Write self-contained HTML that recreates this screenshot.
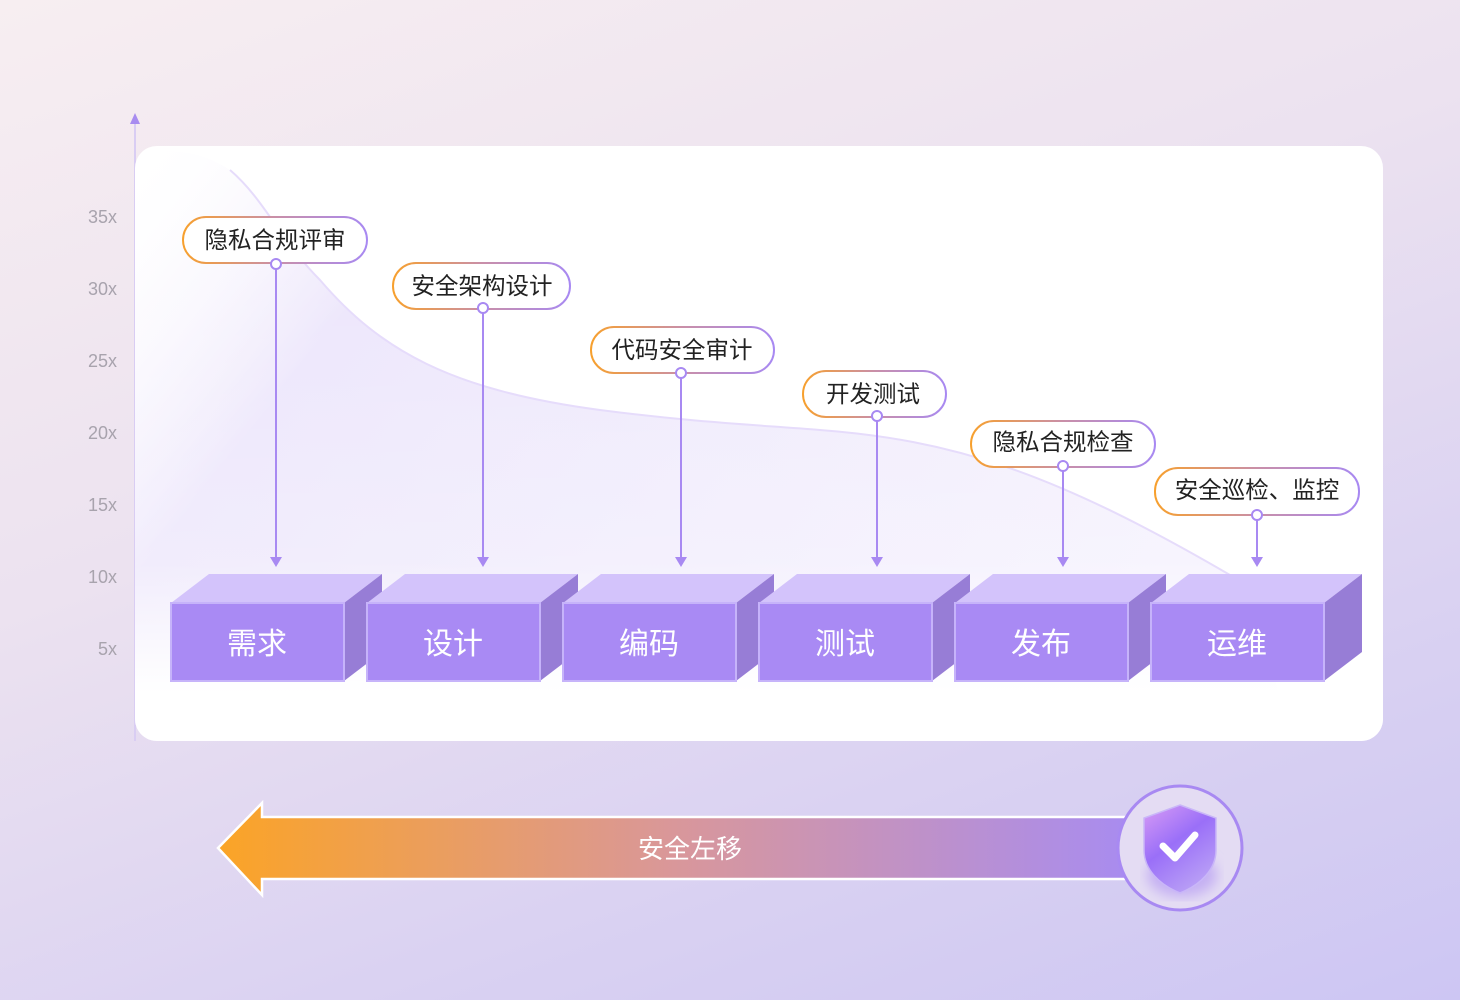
<!DOCTYPE html>
<html><head><meta charset="utf-8"><style>
html,body{margin:0;padding:0}
body{width:1460px;height:1000px;overflow:hidden;background:linear-gradient(160deg,#f7eef1 0%,#ece2f0 40%,#d9d1f2 75%,#cdc6f3 100%);font-family:"Liberation Sans","Noto Sans CJK SC",sans-serif}
</style></head><body>
<svg width="1460" height="1000" viewBox="0 0 1460 1000" xmlns="http://www.w3.org/2000/svg" style="position:absolute;left:0;top:0">
<defs>
<linearGradient id="lb" x1="0" y1="0" x2="1" y2="0"><stop offset="0" stop-color="#f7a02e"/><stop offset="0.5" stop-color="#c98fa8"/><stop offset="1" stop-color="#a889f2"/></linearGradient>
<linearGradient id="area" x1="0" y1="0" x2="1" y2="0.4"><stop offset="0" stop-color="#ffffff" stop-opacity="0"/><stop offset="0.25" stop-color="#ebe4fb"/><stop offset="0.6" stop-color="#efeafc"/><stop offset="1" stop-color="#f4f0fd"/></linearGradient>
<linearGradient id="vfade" x1="0" y1="0" x2="0" y2="1"><stop offset="0" stop-color="#fff" stop-opacity="0"/><stop offset="0.7" stop-color="#fff" stop-opacity="0.3"/><stop offset="0.92" stop-color="#fff" stop-opacity="1"/></linearGradient>
<linearGradient id="arr" x1="0" y1="0" x2="1" y2="0"><stop offset="0" stop-color="#fba426"/><stop offset="0.5" stop-color="#d9979a"/><stop offset="1" stop-color="#a88cf0"/></linearGradient>
<linearGradient id="sh" x1="0" y1="0" x2="0.6" y2="1"><stop offset="0" stop-color="#d99cf5"/><stop offset="0.5" stop-color="#9a6ff8"/><stop offset="1" stop-color="#b99ff6"/></linearGradient>
<filter id="blur"><feGaussianBlur stdDeviation="6"/></filter>
<clipPath id="card"><rect x="135" y="146" width="1248" height="595" rx="22"/></clipPath>
</defs>
<line x1="135" y1="120" x2="135" y2="741" stroke="#d9cdf3" stroke-width="2"/>
<polygon points="135,113 130,124 140,124" fill="#a88cf0"/>
<g font-size="18" fill="#a8a3ad" text-anchor="end">
<text x="117" y="223">35x</text><text x="117" y="295">30x</text><text x="117" y="367">25x</text><text x="117" y="439">20x</text><text x="117" y="511">15x</text><text x="117" y="583">10x</text><text x="117" y="655">5x</text>
</g>
<rect x="135" y="146" width="1248" height="595" rx="22" fill="#fff"/>
<g clip-path="url(#card)">
<path d="M135,150 C170,150 200,150 230,170 C265,200 280,240 320,280 C380,350 450,390 600,410 C700,423 760,425 820,430 C950,440 1050,470 1230,575 L1300,741 L135,741 Z" fill="url(#area)"/>
<rect x="135" y="146" width="1248" height="595" fill="url(#vfade)"/>
<path d="M230,170 C265,200 280,240 320,280 C380,350 450,390 600,410 C700,423 760,425 820,430 C950,440 1050,470 1230,575" fill="none" stroke="#e6dcfb" stroke-width="2"/>
</g>
<g font-size="23.5" fill="#222" text-anchor="middle">
<rect x="183" y="217" width="184" height="46" rx="23" fill="#fff" stroke="url(#lb)" stroke-width="2"/><text x="275" y="248">隐私合规评审</text>
<rect x="393" y="263" width="177" height="46" rx="23" fill="#fff" stroke="url(#lb)" stroke-width="2"/><text x="482" y="294">安全架构设计</text>
<rect x="591" y="327" width="183" height="46" rx="23" fill="#fff" stroke="url(#lb)" stroke-width="2"/><text x="682" y="358">代码安全审计</text>
<rect x="803" y="371" width="143" height="46" rx="23" fill="#fff" stroke="url(#lb)" stroke-width="2"/><text x="873" y="402">开发测试</text>
<rect x="971" y="421" width="184" height="46" rx="23" fill="#fff" stroke="url(#lb)" stroke-width="2"/><text x="1063" y="450">隐私合规检查</text>
<rect x="1155" y="468" width="204" height="47" rx="23" fill="#fff" stroke="url(#lb)" stroke-width="2"/><text x="1257" y="498">安全巡检、监控</text>
</g>
<g stroke="#a889f2" stroke-width="2" fill="#fff">
<line x1="276" y1="264" x2="276" y2="560"/><circle cx="276" cy="264" r="5"/>
<line x1="483" y1="308" x2="483" y2="560"/><circle cx="483" cy="308" r="5"/>
<line x1="681" y1="373" x2="681" y2="560"/><circle cx="681" cy="373" r="5"/>
<line x1="877" y1="416" x2="877" y2="560"/><circle cx="877" cy="416" r="5"/>
<line x1="1063" y1="466" x2="1063" y2="560"/><circle cx="1063" cy="466" r="5"/>
<line x1="1257" y1="515" x2="1257" y2="560"/><circle cx="1257" cy="515" r="5"/>
</g>
<g fill="#a889f2">
<polygon points="270,557 282,557 276,567"/><polygon points="477,557 489,557 483,567"/><polygon points="675,557 687,557 681,567"/><polygon points="871,557 883,557 877,567"/><polygon points="1057,557 1069,557 1063,567"/><polygon points="1251,557 1263,557 1257,567"/>
</g>
<g font-size="30" fill="#fff" text-anchor="middle">
<g transform="translate(0,0)"><polygon points="171,603 209,574 382,574 344,603" fill="#d3c3fb"/><polygon points="344,603 382,574 382,652 344,681" fill="#977dd6"/><rect x="171" y="603" width="173" height="78" fill="#a98af4" stroke="#c6b3fa" stroke-width="2"/><text x="257" y="654">需求</text></g>
<g transform="translate(196,0)"><polygon points="171,603 209,574 382,574 344,603" fill="#d3c3fb"/><polygon points="344,603 382,574 382,652 344,681" fill="#977dd6"/><rect x="171" y="603" width="173" height="78" fill="#a98af4" stroke="#c6b3fa" stroke-width="2"/><text x="257" y="654">设计</text></g>
<g transform="translate(392,0)"><polygon points="171,603 209,574 382,574 344,603" fill="#d3c3fb"/><polygon points="344,603 382,574 382,652 344,681" fill="#977dd6"/><rect x="171" y="603" width="173" height="78" fill="#a98af4" stroke="#c6b3fa" stroke-width="2"/><text x="257" y="654">编码</text></g>
<g transform="translate(588,0)"><polygon points="171,603 209,574 382,574 344,603" fill="#d3c3fb"/><polygon points="344,603 382,574 382,652 344,681" fill="#977dd6"/><rect x="171" y="603" width="173" height="78" fill="#a98af4" stroke="#c6b3fa" stroke-width="2"/><text x="257" y="654">测试</text></g>
<g transform="translate(784,0)"><polygon points="171,603 209,574 382,574 344,603" fill="#d3c3fb"/><polygon points="344,603 382,574 382,652 344,681" fill="#977dd6"/><rect x="171" y="603" width="173" height="78" fill="#a98af4" stroke="#c6b3fa" stroke-width="2"/><text x="257" y="654">发布</text></g>
<g transform="translate(980,0)"><polygon points="171,603 209,574 382,574 344,603" fill="#d3c3fb"/><polygon points="344,603 382,574 382,652 344,681" fill="#977dd6"/><rect x="171" y="603" width="173" height="78" fill="#a98af4" stroke="#c6b3fa" stroke-width="2"/><text x="257" y="654">运维</text></g>
</g>
<polygon points="218,848 262,803 262,817 1130,817 1130,879 262,879 262,895" fill="url(#arr)" stroke="#fff" stroke-width="2.5"/>
<text x="690" y="858" font-size="26" fill="#fff" text-anchor="middle">安全左移</text>
<circle cx="1180" cy="848" r="62" fill="#e4dcf3" stroke="#a889f2" stroke-width="3"/>
<ellipse cx="1182" cy="875" rx="35" ry="22" fill="#c5b0f3" filter="url(#blur)"/>
<path d="M1180,805 L1216,818 L1216,850 C1216,870 1200,885 1180,893 C1160,885 1144,870 1144,850 L1144,818 Z" fill="url(#sh)" stroke="#c9b6f8" stroke-width="1.5"/>
<polyline points="1163,846 1175,858 1195,835" fill="none" stroke="#fff" stroke-width="7" stroke-linecap="round" stroke-linejoin="round"/>
</svg>
</body></html>
